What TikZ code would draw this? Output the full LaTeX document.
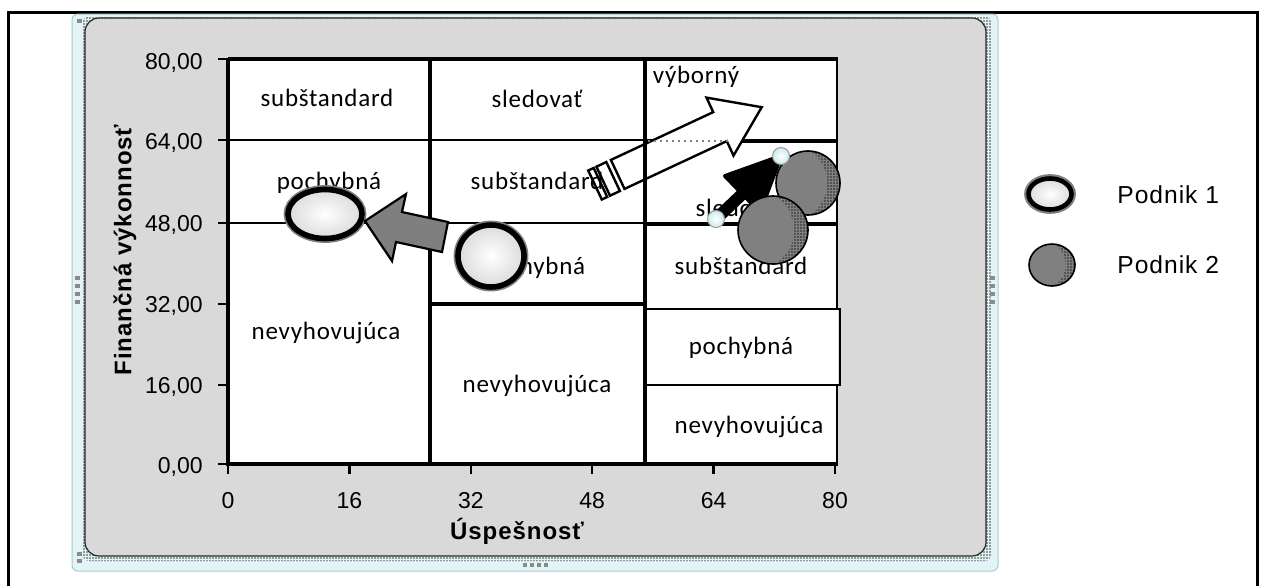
\documentclass[tikz,border=0pt]{standalone}
\usepackage{fontspec}
\setmainfont{Liberation Sans}
\newfontfamily\cellfont{Carlito}[LetterSpace=3]
\newfontfamily\legfont{Liberation Sans}[LetterSpace=4]
\usetikzlibrary{patterns,shapes.geometric}
\pgfdeclarepatternformonly{finedots}{\pgfqpoint{-0.5pt}{-0.5pt}}{\pgfqpoint{0.5pt}{0.5pt}}{\pgfqpoint{1.5pt}{1.5pt}}{\pgfpathcircle{\pgfqpoint{0pt}{0pt}}{0.42pt}\pgfusepath{fill}}
\definecolor{panelgray}{HTML}{D9D9D9}
\definecolor{ptwogray}{HTML}{808080}
\definecolor{arrgray}{HTML}{7F7F7F}
\definecolor{cyanlight}{HTML}{E3F4F6}
\definecolor{cyanborder}{HTML}{A9C9CD}
\definecolor{handlegray}{HTML}{8A8A8A}
\definecolor{handlecyan}{HTML}{CDEAF0}
\begin{document}
\begin{tikzpicture}[x=0.5pt,y=-0.5pt,
  ticklab/.style={font=\fontsize{11.5}{13}\selectfont, inner sep=0pt, text depth=0pt},
  cell/.style={font=\cellfont\fontsize{12.5}{15}\selectfont, inner sep=0pt, text height=1.5ex, text depth=0.25ex},
  axtitle/.style={font=\legfont\bfseries\fontsize{12}{14}\selectfont, inner sep=0pt},
  legtext/.style={font=\legfont\fontsize{12.3}{14}\selectfont, inner sep=0pt, anchor=west},
  gridline/.style={line width=1.3pt},
  thickline/.style={line width=1.7pt},
  axisline/.style={line width=2.2pt},
  tickline/.style={line width=1.2pt},
  pone/.style 2 args={ellipse, minimum width=#1, minimum height=#2, inner sep=0pt, draw=black, line width=2.8pt, inner color=white, outer color=gray!28, preaction={draw=black!50, line width=4.4pt}},
  ptwo/.style 2 args={ellipse, minimum width=#1, minimum height=#2, inner sep=0pt, draw=black, line width=0.8pt, fill=ptwogray,
     path picture={\fill[pattern=finedots, pattern color=black!85, even odd rule] (path picture bounding box.south west) rectangle (path picture bounding box.north east) ([xshift=-0.2*#1]path picture bounding box.center) ellipse [x radius=0.5*#1, y radius=0.56*#2];}},
  handle/.style={circle, minimum size=8.5pt, inner sep=0pt, draw=gray!80, line width=0.5pt, inner color=white, outer color=handlecyan},
  sqhandle/.style={fill=handlegray},
  blockarrow/.style={fill=arrgray, draw=black, line width=1.1pt, line join=miter},
  hollowarrow/.style={fill=white, draw=black, line width=1.2pt, line join=miter},
]
\useasboundingbox (0,0) rectangle (1262,585);
\fill[white] (0,0) rectangle (1262,585);
% outer frame
\draw[line width=1.5pt] (8,590) -- (8,12) -- (1257,12) -- (1257,590);
% chart frame
\filldraw[fill=cyanlight, draw=cyanborder, line width=0.5pt, rounded corners=3pt] (72,14) rectangle (998,571);
\fill[pattern=finedots, pattern color=black!75, rounded corners=3pt] (83,16) rectangle (991,561);
\filldraw[fill=panelgray, draw=black!85, line width=0.6pt, rounded corners=7pt] (85,18) rectangle (986,556);
% selection handles
\foreach \yy in {276,284,292,300} {\fill[sqhandle] (75,\yy) rectangle (80,\yy+4); \fill[sqhandle] (990,\yy) rectangle (995,\yy+4);}
\fill[sqhandle] (77,19) rectangle (82,23);
\fill[sqhandle] (77,552) rectangle (82,556);
\fill[sqhandle] (77,559) rectangle (82,563);
\foreach \xx in {523,530,537,544} {\fill[sqhandle] (\xx,563) rectangle (\xx+4,567);}

% plot area
\fill[white] (228,59) rectangle (838,464);
\draw[gridline] (228,140) -- (430,140);
\draw[gridline] (228,223) -- (430,223);
\draw[gridline] (430,140) -- (645,140);
\draw[gridline] (430,223) -- (645,223);
\draw[axisline] (430,304) -- (645,304);
\draw[thickline] (645,141) -- (838,141);
\draw[thickline] (645,224) -- (838,224);
\draw[gridline] (645,309) -- (840,309) -- (840,385) -- (645,385);
\draw[gridline] (837,59) -- (837,309);
\draw[gridline] (837,385) -- (837,464);
\draw[thickline] (430,59) -- (430,464);
\draw[thickline] (645,59) -- (645,464);
\draw[thickline] (228,59) -- (838,59);
\draw[axisline] (228,58) -- (228,466);
\draw[axisline] (226,464) -- (838,464);
\foreach \yy in {59,140,223,304,385,464} \draw[tickline] (218,\yy) -- (228,\yy);
\foreach \xx in {228,349.4,470.8,592.2,713.6,835} \draw[tickline] (\xx,464) -- (\xx,474);

% tick labels
\node[ticklab, anchor=east] (y80) at (203,61) {80,00};
\node[ticklab, anchor=east] (y64) at (203,141) {64,00};
\node[ticklab, anchor=east] (y48) at (203,223) {48,00};
\node[ticklab, anchor=east] (y32) at (203,304) {32,00};
\node[ticklab, anchor=east] (y16) at (203,385) {16,00};
\node[ticklab, anchor=east] (y0) at (203,465) {0,00};
\node[ticklab] (x0) at (228,500) {0};
\node[ticklab] (x16) at (349.4,500) {16};
\node[ticklab] (x32) at (470.8,500) {32};
\node[ticklab] (x48) at (592.2,500) {48};
\node[ticklab] (x64) at (713.6,500) {64};
\node[ticklab] (x80) at (835,500) {80};
\node[axtitle] (xt) at (517,531) {Úspešnosť};
\node[axtitle, rotate=90] (yt) at (125,250) {Finančná výkonnosť};

% hollow striped arrow
\draw[hollowarrow] (588.2,170.5) -- (593.7,168.0) -- (607.2,197.0) -- (601.8,199.5) -- cycle;
\draw[hollowarrow] (596.4,166.7) -- (606.3,162.0) -- (619.9,191.0) -- (610.0,195.7) -- cycle;
\draw[hollowarrow] (610.9,159.9) -- (713.2,112.1) -- (706.5,97.6) -- (761.7,107.2) -- (733.5,155.6) -- (726.8,141.1) -- (624.5,188.9) -- cycle;
\draw[gray, dotted, line width=1pt] (648,141) -- (728,141);
\draw[thickline] (645,130) -- (645,230);

% cell labels
\node[cell] (c11) at (327,100) {subštandard};
\node[cell] (c12) at (329,183) {pochybná};
\node[cell] (c13) at (326,333) {nevyhovujúca};
\node[cell] (c21) at (537,101) {sledovať};
\node[cell] (c22) at (537,183) {subštandard};
\node[cell] (c23) at (533,268) {pochybná};
\node[cell] (c24) at (537,386) {nevyhovujúca};
\node[cell] (c31) at (696,77) {výborný};
\node[cell] (c32) at (741,210) {sledovať};
\node[cell] (c33) at (741,268) {subštandard};
\node[cell] (c34) at (741,348) {pochybná};
\node[cell] (c35) at (749,427) {nevyhovujúca};

% Podnik 1
\node[pone={37pt}{24.5pt}] (e1) at (325,214) {};
\node[pone={33pt}{31pt}] (e2) at (491,256) {};
\draw[blockarrow] (365,221) -- (406,194) -- (402,212) -- (448,222) -- (442,252) -- (396,242) -- (392,261) -- cycle;

% Podnik 2
\coordinate (pA) at (716,219);
\coordinate (pB) at (781,156);
\coordinate (pC) at (741.7,194.5);
\coordinate (pL) at (725,176);
\coordinate (pR) at (760,212);
\draw[line width=6pt, line cap=round] (pA) -- (pC);
\filldraw[line width=2pt, line join=round] (pL) -- (pB) -- (pR) -- cycle;
\node[ptwo={32pt}{32pt}] (k1) at (808,183) {};
\node[ptwo={35pt}{34pt}] (k2) at (773,230) {};
\node[handle] (hA) at (pA) {};
\node[handle] (hB) at (pB) {};

% legend
\node[pone={21.5pt}{15.5pt}, line width=2.3pt] (l1) at (1050,194) {};
\node[ptwo={23pt}{21pt}] (l2) at (1052,265) {};
\node[legtext] (t1) at (1117,195) {Podnik 1};
\node[legtext] (t2) at (1117,265) {Podnik 2};
\end{tikzpicture}
\end{document}
